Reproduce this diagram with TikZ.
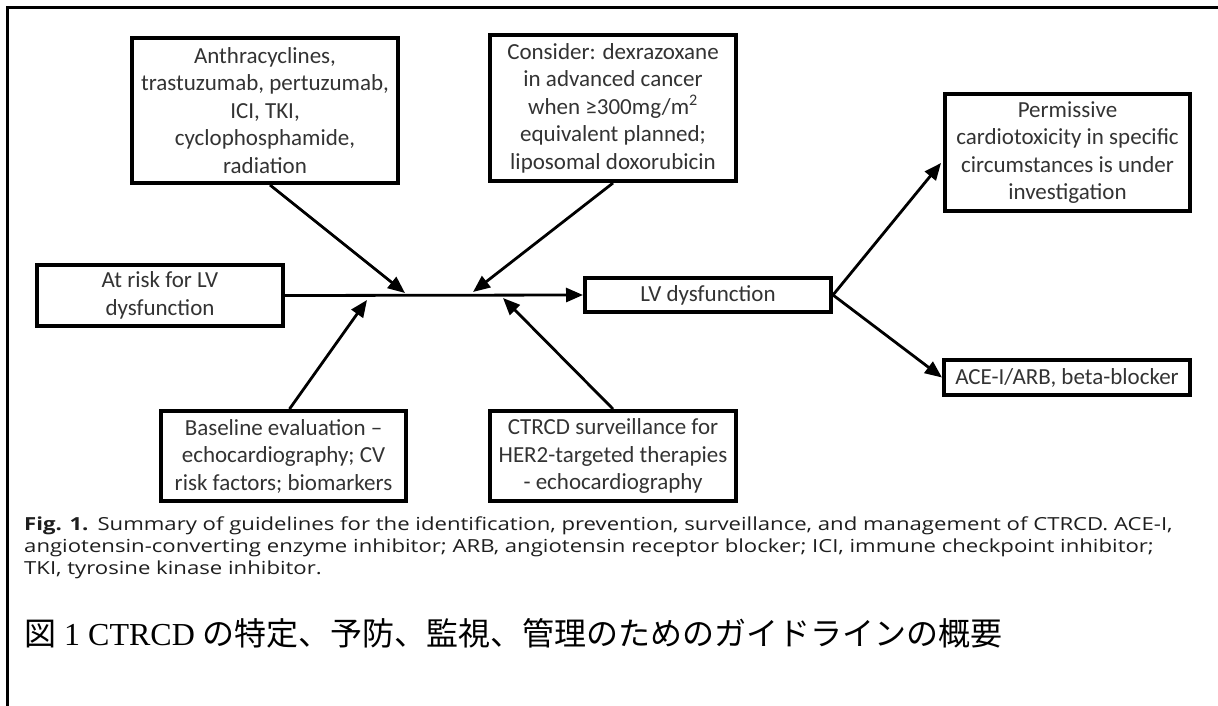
\documentclass[tikz,border=0pt]{standalone}
\usepackage{fontspec}
\setmainfont{Liberation Serif}
\newfontfamily\boxfont{Carlito}
\newfontfamily\capfont[FakeStretch=1.23]{Open Sans}
\newfontfamily\jpfont{Noto Sans CJK JP}
\usetikzlibrary{arrows.meta,calc}
\definecolor{txt}{HTML}{333333}
\definecolor{capt}{HTML}{1E1E1E}
\tikzset{
  box/.style={draw=black, line width=4pt, fill=white, align=center, inner sep=0pt,
    text=txt, font=\boxfont\fontsize{23}{27.5}\selectfont},
  conn/.style={draw=black, line width=2.8pt, -{Triangle[length=17pt,width=14pt]}},
  frame/.style={draw=black, line width=3pt},
  captxt/.style={anchor=west, inner sep=0pt, text=capt, font=\capfont\fontsize{18}{22}\selectfont},
  jptxt/.style={anchor=west, inner sep=0pt, text=black, font=\fontsize{32}{36}\selectfont}
}
\begin{document}
\begin{tikzpicture}[x=1pt,y=-1pt]
\useasboundingbox (0,0) rectangle (1218,706);
\fill[white] (0,0) rectangle (1218,706);
% outer frame (top and left only)
\coordinate (fa) at (7,706);
\coordinate (fb) at (7,8);
\coordinate (fc) at (1218,8);
\draw[frame] (fa) -- (fb) -- (fc);

% boxes
\node[box, minimum width=266pt, minimum height=145pt] (A) at (265,110.5)
  {Anthracyclines,\\trastuzumab, pertuzumab,\\ICI, TKI,\\cyclophosphamide,\\radiation};
\node[box, minimum width=246pt, minimum height=146pt] (C) at (613,108)
  {Consider: dexrazoxane\\in advanced cancer\\when ≥300mg/m\textsuperscript{2}\\equivalent planned;\\liposomal doxorubicin};
\node[box, minimum width=245pt, minimum height=117pt] (P) at (1067.5,152.5)
  {Permissive\\cardiotoxicity in specific\\circumstances is under\\investigation};
\node[box, minimum width=246pt, minimum height=61pt] (R) at (160,295.5)
  {At risk for LV\\dysfunction};
\node[box, minimum width=246pt, minimum height=34pt] (LV) at (708,295)
  {LV dysfunction};
\node[box, minimum width=246pt, minimum height=35pt] (ACE) at (1067,377.5)
  {ACE-I/ARB, beta-blocker};
\node[box, minimum width=245pt, minimum height=90pt] (B) at (283.5,456)
  {Baseline evaluation –\\echocardiography; CV\\risk factors; biomarkers};
\node[box, minimum width=246pt, minimum height=90pt] (S) at (613,456)
  {CTRCD surveillance for\\HER2-targeted therapies\\- echocardiography};

% tips on the main line
\coordinate (ta) at (405,293);
\coordinate (tc) at (473,292);
\coordinate (tb) at (367,300);
\coordinate (ts) at (503,298);
\coordinate (tp) at (941,163);

\draw[conn] (R.east) -- (LV.west);
\draw[conn] ([xshift=5pt]A.south) -- (ta);
\draw[conn] (C.south) -- (tc);
\draw[conn] ([xshift=6pt]B.north) -- (tb);
\draw[conn] (S.north) -- (ts);
\draw[conn] (LV.east) -- (tp);
\draw[conn] (LV.east) -- (ACE.west);

% caption
\node[captxt] (c1) at (24,526) {\textbf{Fig. 1.}\enspace Summary of guidelines for the identification, prevention, surveillance, and management of CTRCD. ACE-I,};
\node[captxt] (c2) at (24,548) {angiotensin-converting enzyme inhibitor; ARB, angiotensin receptor blocker; ICI, immune checkpoint inhibitor;};
\node[captxt] (c3) at (24,570) {TKI, tyrosine kinase inhibitor.};
\node[jptxt] (jp) at (24,633) {\jpfont 図\rmfamily\ 1 CTRCD\ \jpfont の特定、予防、監視、管理のためのガイドラインの概要};
\end{tikzpicture}
\end{document}
